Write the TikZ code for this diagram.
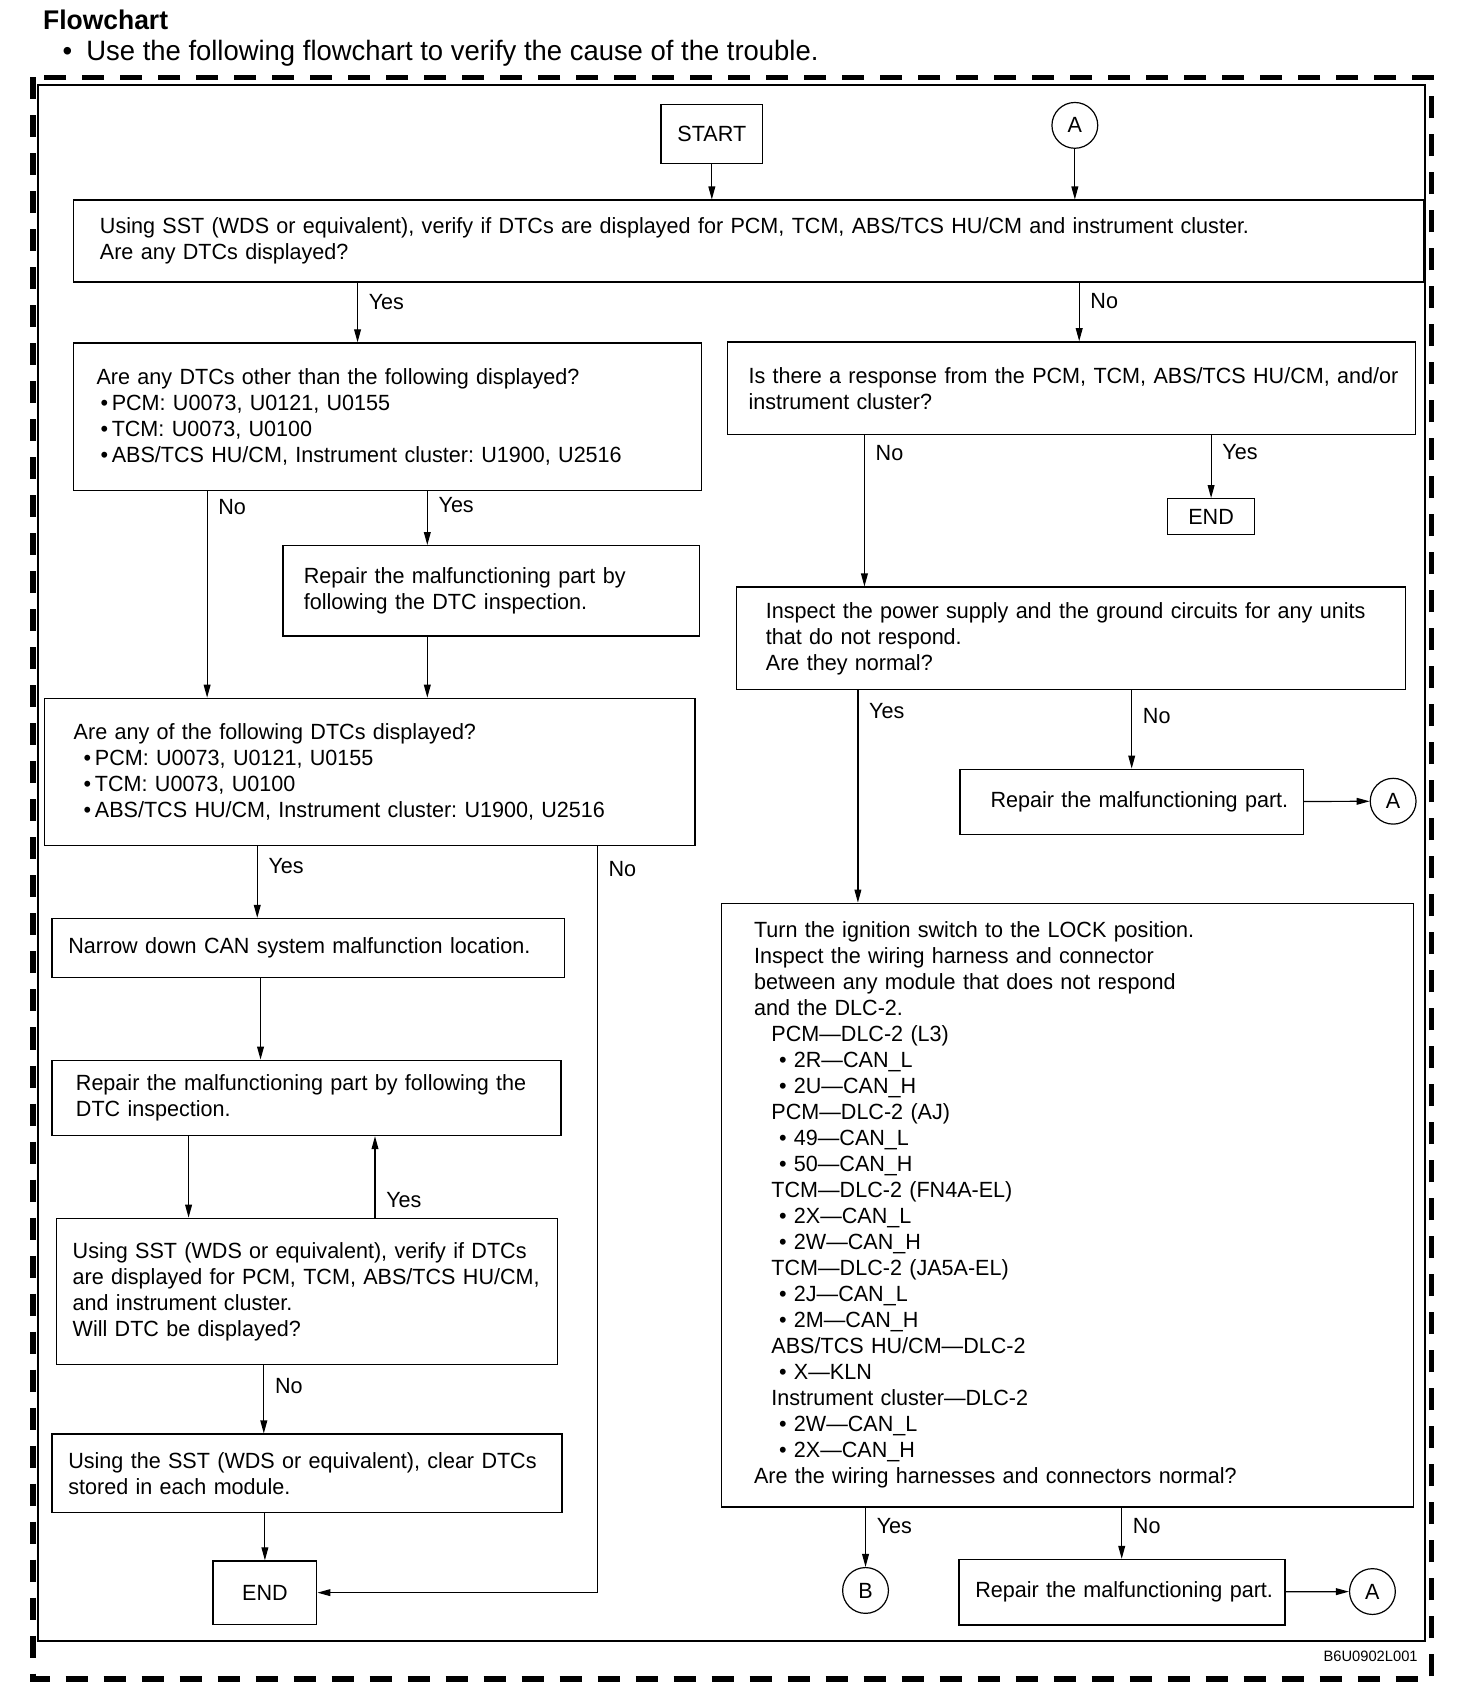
\documentclass[tikz,border=0pt]{standalone}
\usepackage{fontspec}
\setmainfont{Liberation Sans}[FakeStretch=0.98]
\usetikzlibrary{arrows.meta}
\frenchspacing
\begin{document}
\begin{tikzpicture}[x=0.545pt, y=-0.545pt,
    >={Triangle[length=6.5pt,width=3.4pt]},
    font=\fontsize{11}{13}\selectfont,
    box/.style={draw, line width=0.7pt, anchor=north west, align=left, inner xsep=3pt,
      execute at begin node={\leftskip=#1}},
    term/.style={draw, line width=0.7pt, inner sep=0pt},
    conn/.style={draw, circle, line width=0.6pt, minimum size=22.9pt, inner sep=0pt},
    yesno/.style={anchor=west, xshift=2pt},
    every path/.style={line width=0.6pt}]
  \useasboundingbox (0,0) rectangle (1336,1565);
  % Heading above the frame.
  \node[anchor=west, inner sep=0pt, font=\fontsize{13.5}{16}\bfseries] (title) at (39,18) {Flowchart};
  \node[anchor=west, inner sep=0pt, font=\fontsize{14}{16}\selectfont] (intro) at (57,49) {•\hspace{7pt}Use the following flowchart to verify the cause of the trouble.};
  % Draw the dashed outer frame and the inner frame.
  \draw[line width=2.8pt, dash pattern=on 11pt off 8pt] (30,71) rectangle (1313,1540);
  \draw[line width=1pt] (35,78) rectangle (1307,1505);
  \node[anchor=east, inner sep=0pt, font=\fontsize{7.5}{9}\selectfont] (code) at (1301,1519) {B6U0902L001};

  % Start of the chart.
  \node[term, minimum width=50.7pt, minimum height=29.4pt] (start) at (653,123) {START};
  \node[conn] (atop) at (986,115) {A};
  \node[box=10.1pt, text width=668.7pt, minimum height=40.9pt] (dtcs) at (67,183)
    {Using SST (WDS or equivalent), verify if DTCs are displayed for PCM, TCM, ABS/TCS HU/CM and instrument cluster.\\
     Are any DTCs displayed?};

  % Left branch: DTCs displayed.
  \node[box=8.4pt, text width=307.9pt, minimum height=73.6pt] (other) at (67,314)
    {Are any DTCs other than the following displayed?\\
     \hspace*{2pt}•\,PCM: U0073, U0121, U0155\\
     \hspace*{2pt}•\,TCM: U0073, U0100\\
     \hspace*{2pt}•\,ABS/TCS HU/CM, Instrument cluster: U1900, U2516};
  \node[box=7.4pt, text width=202.2pt, minimum height=45.2pt] (repdtc) at (259,500)
    {Repair the malfunctioning part by\\
     following the DTC inspection.};
  \node[box=11.7pt, text width=319.4pt, minimum height=73.6pt] (follow) at (40,640)
    {Are any of the following DTCs displayed?\\
     \hspace*{5pt}•\,PCM: U0073, U0121, U0155\\
     \hspace*{5pt}•\,TCM: U0073, U0100\\
     \hspace*{5pt}•\,ABS/TCS HU/CM, Instrument cluster: U1900, U2516};
  \node[box=5.2pt, text width=250.2pt, minimum height=29.4pt] (narrow) at (47,842)
    {Narrow down CAN system malfunction location.};
  \node[box=9pt, text width=248.5pt, minimum height=37.6pt] (repair2) at (47,972)
    {Repair the malfunctioning part by following the\\
     DTC inspection.};
  \node[box=5.2pt, text width=244.7pt, minimum height=73pt] (verify) at (51,1117)
    {Using SST (WDS or equivalent), verify if DTCs\\
     are displayed for PCM, TCM, ABS/TCS HU/CM,\\
     and instrument cluster.\\
     Will DTC be displayed?};
  \node[box=5.2pt, text width=249.1pt, minimum height=39.2pt] (clear) at (47,1315)
    {Using the SST (WDS or equivalent), clear DTCs\\
     stored in each module.};
  \node[term, minimum width=51.8pt, minimum height=31.6pt] (end2) at (243,1461) {END};

  % Right branch: no DTCs displayed.
  \node[box=7.4pt, text width=337.9pt, minimum height=46.3pt] (resp) at (667,313)
    {Is there a response from the PCM, TCM, ABS/TCS HU/CM, and/or\\
     instrument cluster?};
  \node[term, minimum width=43.6pt, minimum height=18pt] (end1) at (1111,474) {END};
  \node[box=11.7pt, text width=328.6pt, minimum height=51.2pt] (power) at (675,538)
    {Inspect the power supply and the ground circuits for any units\\
     that do not respond.\\
     Are they normal?};
  \node[box=12.3pt, text width=165.7pt, minimum height=32.7pt] (repR) at (880,705)
    {Repair the malfunctioning part.};
  \node[conn] (aR1) at (1278,735) {A};
  \node[box=13.4pt, text width=340.1pt, minimum height=301.9pt] (wiring) at (661,828)
    {Turn the ignition switch to the LOCK position.\\
     Inspect the wiring harness and connector\\
     between any module that does not respond\\
     and the DLC-2.\\
     \hspace*{8.7pt}PCM—DLC-2 (L3)\\
     \hspace*{12.5pt}•\ 2R—CAN\_L\\
     \hspace*{12.5pt}•\ 2U—CAN\_H\\
     \hspace*{8.7pt}PCM—DLC-2 (AJ)\\
     \hspace*{12.5pt}•\ 49—CAN\_L\\
     \hspace*{12.5pt}•\ 50—CAN\_H\\
     \hspace*{8.7pt}TCM—DLC-2 (FN4A-EL)\\
     \hspace*{12.5pt}•\ 2X—CAN\_L\\
     \hspace*{12.5pt}•\ 2W—CAN\_H\\
     \hspace*{8.7pt}TCM—DLC-2 (JA5A-EL)\\
     \hspace*{12.5pt}•\ 2J—CAN\_L\\
     \hspace*{12.5pt}•\ 2M—CAN\_H\\
     \hspace*{8.7pt}ABS/TCS HU/CM—DLC-2\\
     \hspace*{12.5pt}•\ X—KLN\\
     \hspace*{8.7pt}Instrument cluster—DLC-2\\
     \hspace*{12.5pt}•\ 2W—CAN\_L\\
     \hspace*{12.5pt}•\ 2X—CAN\_H\\
     Are the wiring harnesses and connectors normal?};
  \node[conn] (cB) at (794,1459) {B};
  \node[box=5.2pt, text width=157pt, minimum height=32.7pt] (repR2) at (879,1430)
    {Repair the malfunctioning part.};
  \node[conn] (aR2) at (1259,1460) {A};

  % Connectors.
  \draw[->] (start) -- (start |- dtcs.north);
  \draw[->] (atop) -- (atop |- dtcs.north);
  \draw[->] (dtcs.south -| 328,0) -- (other.north -| 328,0) node[yesno, pos=.33] {Yes};
  \draw[->] (dtcs.south -| 990,0) -- (resp.north -| 990,0) node[yesno, pos=.31] {No};
  \draw[->] (other.south -| 190,0) -- (follow.north -| 190,0) node[yesno, pos=.08] {No};
  \draw[->] (other.south -| 392,0) -- (repdtc.north -| 392,0) node[yesno, pos=.27] {Yes};
  \draw[->] (repdtc.south -| 392,0) -- (follow.north -| 392,0);
  \draw[->] (resp.south -| 793,0) -- (power.north -| 793,0) node[yesno, pos=.12] {No};
  \draw[->] (resp.south -| end1) -- (end1) node[yesno, pos=.27] {Yes};
  \draw[->] (power.south -| 787,0) -- (wiring.north -| 787,0) node[yesno, pos=.1] {Yes};
  \draw[->] (power.south -| repR) -- (repR) node[yesno, pos=.33] {No};
  \draw[->] (repR) -- (aR1);
  \draw[->] (follow.south -| 236,0) -- (narrow.north -| 236,0) node[yesno, pos=.27] {Yes};
  \draw[->] (follow.south -| 548,0) |- (end2) node[yesno, pos=.015] {No};
  \draw[->] (narrow.south -| 239,0) -- (repair2.north -| 239,0);
  \draw[->] (repair2.south -| 173,0) -- (verify.north -| 173,0);
  \draw[->] (verify.north -| 344,0) -- (repair2.south -| 344,0) node[yesno, pos=.22] {Yes};
  \draw[->] (verify.south -| 242,0) -- (clear.north -| 242,0) node[yesno, pos=.3] {No};
  \draw[->] (clear.south -| end2) -- (end2);
  \draw[->] (wiring.south -| cB) -- (cB) node[yesno, pos=.3] {Yes};
  \draw[->] (wiring.south -| 1029,0) -- (repR2.north -| 1029,0) node[yesno, pos=.35] {No};
  \draw[->] (repR2) -- (aR2);
\end{tikzpicture}
\end{document}
